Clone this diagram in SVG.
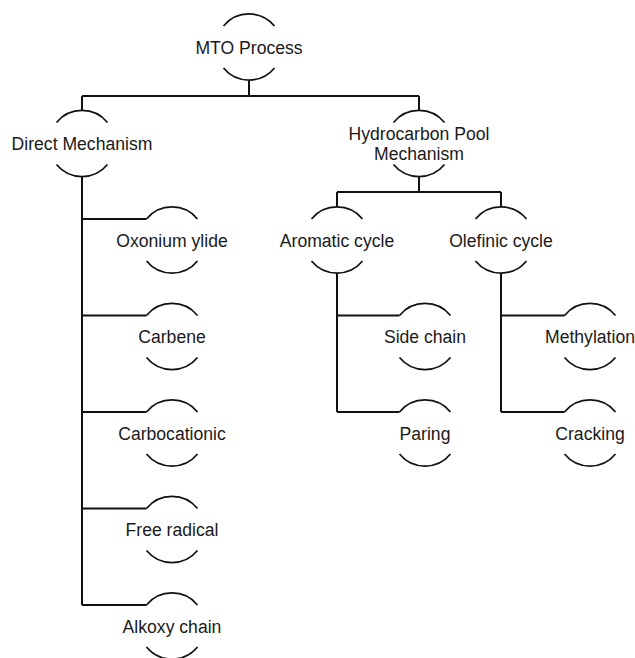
<svg xmlns="http://www.w3.org/2000/svg" width="635" height="658" viewBox="0 0 635 658">
<style>
.arc{fill:none;stroke:#111;stroke-width:1.7}
.con{fill:none;stroke:#111;stroke-width:2}
text{font-family:"Liberation Sans",Arial,sans-serif;font-size:17.6px;fill:#1a1a1a;text-anchor:middle}
</style>
<rect width="635" height="658" fill="#fff"/>
<g id="connectors">
<path class="con" d="M249 80V96M82 96H419M82 96V110.5M419 96V110.5"/>
<path class="con" d="M419 176.5V192M337 192H501M337 192V207M501 192V207"/>
<path class="con" d="M82 176.5V605M82 219H146.5M82 315.5H146.5M82 412H146.5M82 508.5H146.5M82 605H146.5"/>
<path class="con" d="M337 273V412M337 315.5H399.5M337 412H399.5"/>
<path class="con" d="M501 273V412M501 315.5H564.5M501 412H564.5"/>
</g>
<g id="mto"><path class="arc" d="M223.5 26A33 33 0 0 1 274.5 26M223.5 68A33 33 0 0 0 274.5 68"/><text x="249" y="53.5">MTO Process</text></g>
<g id="direct"><path class="arc" d="M56.5 122.5A33 33 0 0 1 107.5 122.5M56.5 164.5A33 33 0 0 0 107.5 164.5"/><text x="82" y="150">Direct Mechanism</text></g>
<g id="hydrocarbon"><path class="arc" d="M393.5 122.5A33 33 0 0 1 444.5 122.5M393.5 164.5A33 33 0 0 0 444.5 164.5"/><text x="419" y="140">Hydrocarbon Pool</text><text x="419" y="160">Mechanism</text></g>
<g id="aromatic"><path class="arc" d="M311.5 219A33 33 0 0 1 362.5 219M311.5 261A33 33 0 0 0 362.5 261"/><text x="337" y="246.5">Aromatic cycle</text></g>
<g id="olefinic"><path class="arc" d="M475.5 219A33 33 0 0 1 526.5 219M475.5 261A33 33 0 0 0 526.5 261"/><text x="501" y="246.5">Olefinic cycle</text></g>
<g id="sidechain"><path class="arc" d="M399.5 315.5A33 33 0 0 1 450.5 315.5M399.5 357.5A33 33 0 0 0 450.5 357.5"/><text x="425" y="343">Side chain</text></g>
<g id="paring"><path class="arc" d="M399.5 412A33 33 0 0 1 450.5 412M399.5 454A33 33 0 0 0 450.5 454"/><text x="425" y="439.5">Paring</text></g>
<g id="methylation"><path class="arc" d="M564.5 315.5A33 33 0 0 1 615.5 315.5M564.5 357.5A33 33 0 0 0 615.5 357.5"/><text x="590" y="343">Methylation</text></g>
<g id="cracking"><path class="arc" d="M564.5 412A33 33 0 0 1 615.5 412M564.5 454A33 33 0 0 0 615.5 454"/><text x="590" y="439.5">Cracking</text></g>
<g id="oxonium"><path class="arc" d="M146.5 219A33 33 0 0 1 197.5 219M146.5 261A33 33 0 0 0 197.5 261"/><text x="172" y="246.5">Oxonium ylide</text></g>
<g id="carbene"><path class="arc" d="M146.5 315.5A33 33 0 0 1 197.5 315.5M146.5 357.5A33 33 0 0 0 197.5 357.5"/><text x="172" y="343">Carbene</text></g>
<g id="carbocationic"><path class="arc" d="M146.5 412A33 33 0 0 1 197.5 412M146.5 454A33 33 0 0 0 197.5 454"/><text x="172" y="439.5">Carbocationic</text></g>
<g id="freeradical"><path class="arc" d="M146.5 508.5A33 33 0 0 1 197.5 508.5M146.5 550.5A33 33 0 0 0 197.5 550.5"/><text x="172" y="536">Free radical</text></g>
<g id="alkoxy"><path class="arc" d="M146.5 605A33 33 0 0 1 197.5 605M146.5 647A33 33 0 0 0 197.5 647"/><text x="172" y="632.5">Alkoxy chain</text></g>
</svg>
